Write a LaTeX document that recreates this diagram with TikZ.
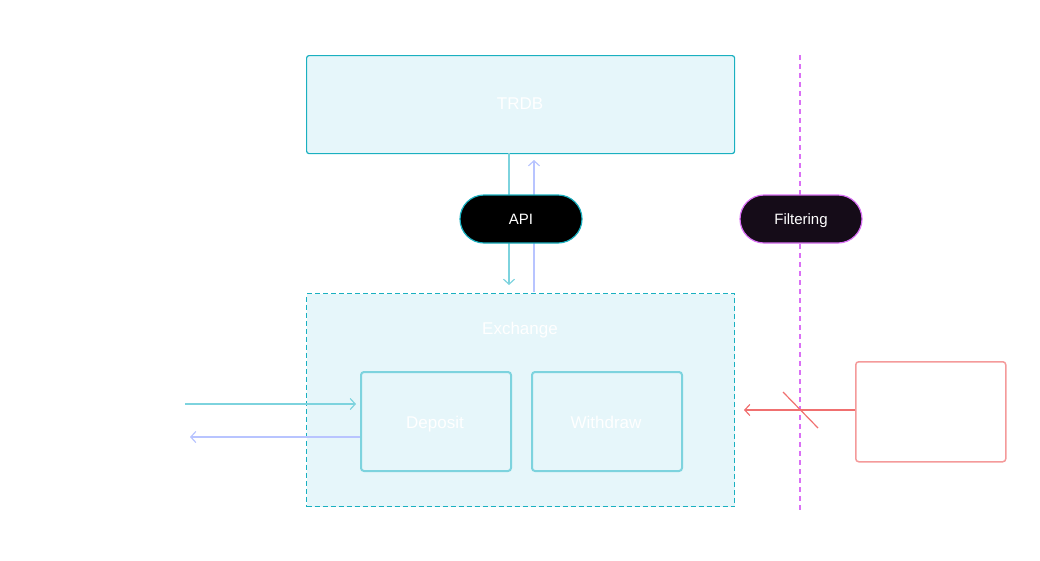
\documentclass[tikz,border=0pt]{standalone}
\usepackage{fontspec}
\setmainfont{Liberation Sans}
\usetikzlibrary{arrows.meta}
\definecolor{boxfill}{HTML}{E6F6FA}
\definecolor{tealdark}{HTML}{1AB0C0}
\definecolor{teallight}{HTML}{7DD3DE}
\definecolor{lav}{HTML}{B8C4FF}
\definecolor{purp}{HTML}{DA70F5}
\definecolor{filtfill}{HTML}{150C18}
\definecolor{redl}{HTML}{F49A9A}
\definecolor{redarrow}{HTML}{F07070}
\tikzset{
  bigbox/.style={draw=tealdark, fill=boxfill, line width=1.2pt, rounded corners=2.5pt, anchor=north west, inner sep=0pt},
  subbox/.style={draw=teallight, fill=boxfill, line width=2pt, rounded corners=3pt, anchor=north west, inner sep=0pt, minimum width=150pt, minimum height=99pt},
  lbl/.style={text=white, font=\fontsize{17}{20}\selectfont, text height=12pt, text depth=0pt},
  pill/.style={rounded corners=24pt, minimum width=122pt, minimum height=48pt, line width=1.2pt, text=white, font=\fontsize{15}{18}\selectfont, inner sep=0pt, text height=11pt, text depth=0pt},
  arr/.style={line width=1.5pt, -{Straight Barb[length=5pt,width=11pt,line width=1.2pt]}},
}
\begin{document}
\begin{tikzpicture}[x=1pt,y=-1pt]
\useasboundingbox (0,0) rectangle (1040,560);
% filter line
\draw[purp, line width=1.2pt, dash pattern=on 5pt off 4pt] (800,55) -- (800,510);
% TRDB
\node[bigbox, minimum width=428pt, minimum height=98pt] (trdb) at (306,55) {};
\node[lbl] (trdbl) at (520,103) {TRDB};
% Exchange
\node[bigbox, dash pattern=on 5pt off 3pt, rounded corners=0pt, minimum width=428pt, minimum height=213pt] (ex) at (306,293) {};
\node[lbl] (exl) at (520,328) {Exchange};
% Deposit / Withdraw
\node[subbox] (dep) at (360,371) {};
\node[lbl] (depl) at (435,422) {Deposit};
\node[subbox] (wd) at (531,371) {};
\node[lbl] (wdl) at (606,422) {Withdraw};
% Red box
\node[draw=redl, line width=1.5pt, rounded corners=3pt, anchor=north west, minimum width=150pt, minimum height=100pt, inner sep=0pt] (ext) at (855,361) {};
% vertical arrows
\coordinate (dnA) at (509,153);
\coordinate (dnB) at (509,285);
\coordinate (upA) at (534,292);
\coordinate (upB) at (534,160);
\draw[arr, teallight] (dnA) -- (dnB);
\draw[arr, lav] (upA) -- (upB);
% API pill
\node[pill, draw=tealdark, fill=black] (api) at (521,219) {API};
% Filtering pill
\node[pill, draw=purp, fill=filtfill] (filt) at (801,219) {Filtering};
% left arrows
\coordinate (inL) at (185,404);
\coordinate (outL) at (190,437);
\draw[arr, teallight, shorten >=4pt] (inL) -- (inL -| dep.west);
\draw[arr, lav] (dep.west |- outL) -- (outL);
% red arrow
\coordinate (redEnd) at (744,410);
\draw[arr, redarrow, line width=1.2pt] (ext.west |- redEnd) -- (redEnd);
\coordinate (slA) at (783,392);
\coordinate (slB) at (818,428);
\draw[redarrow, line width=1.2pt] (slA) -- (slB);
\end{tikzpicture}
\end{document}
